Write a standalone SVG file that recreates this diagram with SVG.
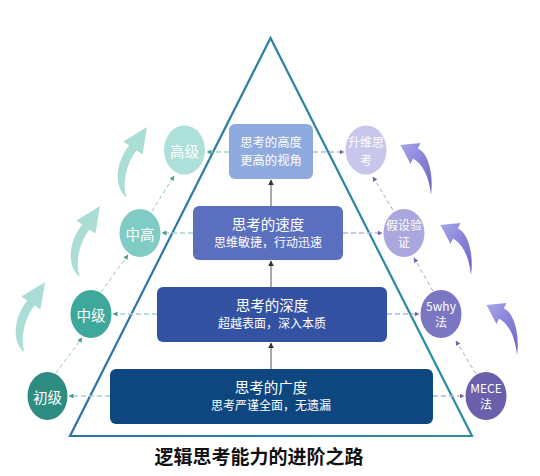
<svg xmlns="http://www.w3.org/2000/svg" width="540" height="476" viewBox="0 0 540 476">
<defs>
<style>
text { font-family: "Noto Sans CJK SC", "Noto Sans", sans-serif; text-anchor: middle; dominant-baseline: central; }
.w { fill: #ffffff; }
.big { font-size: 14.5px; }
.sm { font-size: 12px; }
.cl { font-size: 14.5px; fill: #ffffff; }
.cr { font-size: 12px; fill: #ffffff; }
.hl { fill: none; stroke: #9fd6cf; stroke-width: 1.3; stroke-dasharray: 5 3; marker-end: url(#mt); }
.hr { fill: none; stroke: #b7b4e2; stroke-width: 1.3; stroke-dasharray: 5 3; marker-end: url(#mp); }
.dl { fill: none; stroke: #8fc9c2; stroke-width: 1; stroke-dasharray: 4 3; marker-end: url(#mt); }
.dr { fill: none; stroke: #a9a7c9; stroke-width: 1; stroke-dasharray: 4 3; marker-end: url(#mp); }
.v { fill: none; stroke: #555555; stroke-width: 1; marker-end: url(#md); }
.ta { fill: #a9ddd6; }
.pa { fill: url(#pg); }
</style>
<linearGradient id="tri" x1="70" y1="0" x2="472" y2="0" gradientUnits="userSpaceOnUse">
<stop offset="0" stop-color="#2d72a8"/>
<stop offset="1" stop-color="#2a8f9c"/>
</linearGradient>
<linearGradient id="pg" x1="0" y1="0" x2="1" y2="1">
<stop offset="0" stop-color="#a9a5e8"/>
<stop offset="0.5" stop-color="#8883d8"/>
<stop offset="1" stop-color="#6d66c6"/>
</linearGradient>
<marker id="mt" viewBox="0 0 10 10" refX="9" refY="5" markerWidth="5" markerHeight="5" markerUnits="userSpaceOnUse" orient="auto"><path d="M0,0 L10,5 L0,10 Z" fill="#4e9c94"/></marker>
<marker id="mp" viewBox="0 0 10 10" refX="9" refY="5" markerWidth="5" markerHeight="5" markerUnits="userSpaceOnUse" orient="auto"><path d="M0,0 L10,5 L0,10 Z" fill="#6f6aa8"/></marker>
<marker id="md" viewBox="0 0 10 10" refX="9" refY="5" markerWidth="6" markerHeight="6" markerUnits="userSpaceOnUse" orient="auto"><path d="M0,0 L10,5 L0,10 Z" fill="#333333"/></marker>
<path id="tarrow" d="M0,0 C-15,-12 -10,-38 2.3,-52.5 L-3.5,-56.5 L20,-71 L15.5,-43.5 L9.7,-47.5 C1,-38 -6,-15 0,0 Z"/>
<path id="parrow" d="M0,0 C3,-20 -3,-43 -13.2,-46.5 L-10.5,-52 L-30.5,-50 L-20.5,-31 L-18,-36.6 C-8,-31 -2,-18 0,0 Z"/>
</defs>

<rect width="540" height="476" fill="#ffffff"/>

<g id="decor-arrows">
<use href="#tarrow" class="ta" transform="translate(25,353)"/>
<use href="#tarrow" class="ta" transform="translate(80,277)"/>
<use href="#tarrow" class="ta" transform="translate(127,198)"/>
<use href="#parrow" class="pa" transform="translate(431,195)"/>
<use href="#parrow" class="pa" transform="translate(471,275)"/>
<use href="#parrow" class="pa" transform="translate(517,355)"/>
</g>

<g id="pyramid">
<polygon points="270.5,38 70,436 472,436" fill="none" stroke="url(#tri)" stroke-width="2.2" stroke-linejoin="miter"/>
</g>

<g id="connectors">
<path class="hl" d="M229,152 H207"/>
<path class="hl" d="M193,233 H162"/>
<path class="hl" d="M157,314 H113"/>
<path class="hl" d="M110,396 H69"/>
<path class="hr" d="M313,152 H344"/>
<path class="hr" d="M343,233 H382"/>
<path class="hr" d="M387,314 H419"/>
<path class="hr" d="M433,396 H464"/>
<path class="dl" d="M56,373 L82,338"/>
<path class="dl" d="M101,292 L128,255"/>
<path class="dl" d="M152,211 L174,176"/>
<path class="dr" d="M476,374 L456,341"/>
<path class="dr" d="M433,291 L414,258"/>
<path class="dr" d="M393,210 L373,177"/>
<path class="v" d="M271,206 V180"/>
<path class="v" d="M271,287 V261"/>
<path class="v" d="M271,369 V343"/>
</g>

<g id="box-height">
<rect x="229" y="124" width="84" height="55" rx="6" fill="#8faade"/>
<text class="w" x="271" y="141.5" font-size="12.3">思考的高度</text>
<text class="w" x="271" y="159.5" font-size="12.3">更高的视角</text>
</g>
<g id="box-speed">
<rect x="193" y="206" width="150" height="54" rx="6" fill="#5b6fbf"/>
<text class="w big" x="268" y="223">思考的速度</text>
<text class="w sm" x="268" y="241">思维敏捷，行动迅速</text>
</g>
<g id="box-depth">
<rect x="157" y="287" width="230" height="55" rx="6" fill="#3352a3"/>
<text class="w big" x="272" y="304">思考的深度</text>
<text class="w sm" x="272" y="322">超越表面，深入本质</text>
</g>
<g id="box-breadth">
<rect x="110" y="369" width="323" height="55" rx="6" fill="#0e477f"/>
<text class="w big" x="271" y="386">思考的广度</text>
<text class="w sm" x="271" y="404">思考严谨全面，无遗漏</text>
</g>

<g id="c-gaoji">
<ellipse cx="184.5" cy="150" rx="20.5" ry="24.5" fill="#aee0da"/>
<text class="cl" x="184.5" y="150">高级</text>
</g>
<g id="c-zhonggao">
<ellipse cx="140" cy="233" rx="20.5" ry="24" fill="#80ccc4"/>
<text class="cl" x="140" y="233">中高</text>
</g>
<g id="c-zhongji">
<ellipse cx="91" cy="314" rx="20.5" ry="24" fill="#3ea89c"/>
<text class="cl" x="91" y="314">中级</text>
</g>
<g id="c-chuji">
<ellipse cx="47.5" cy="396" rx="20" ry="24" fill="#2f8c82"/>
<text class="cl" x="47.5" y="396">初级</text>
</g>

<g id="c-shengwei">
<ellipse cx="366" cy="150" rx="20.5" ry="24.5" fill="#c8c6ea"/>
<text class="cr" x="366" y="141.5">升维思</text>
<text class="cr" x="366" y="159">考</text>
</g>
<g id="c-jiashe">
<ellipse cx="404" cy="233" rx="20.5" ry="24" fill="#aaa7df"/>
<text class="cr" x="404" y="224">假设验</text>
<text class="cr" x="404" y="241.5">证</text>
</g>
<g id="c-5why">
<ellipse cx="441" cy="314" rx="20.5" ry="24" fill="#7b76c2"/>
<text class="cr" x="441" y="305">5why</text>
<text class="cr" x="441" y="321">法</text>
</g>
<g id="c-mece">
<ellipse cx="486" cy="396" rx="20.5" ry="24" fill="#6a5fab"/>
<text class="cr" x="486" y="387">MECE</text>
<text class="cr" x="486" y="403">法</text>
</g>

<g id="title">
<text x="259" y="455" font-size="19" font-weight="bold" fill="#111111">逻辑思考能力的进阶之路</text>
</g>
</svg>
